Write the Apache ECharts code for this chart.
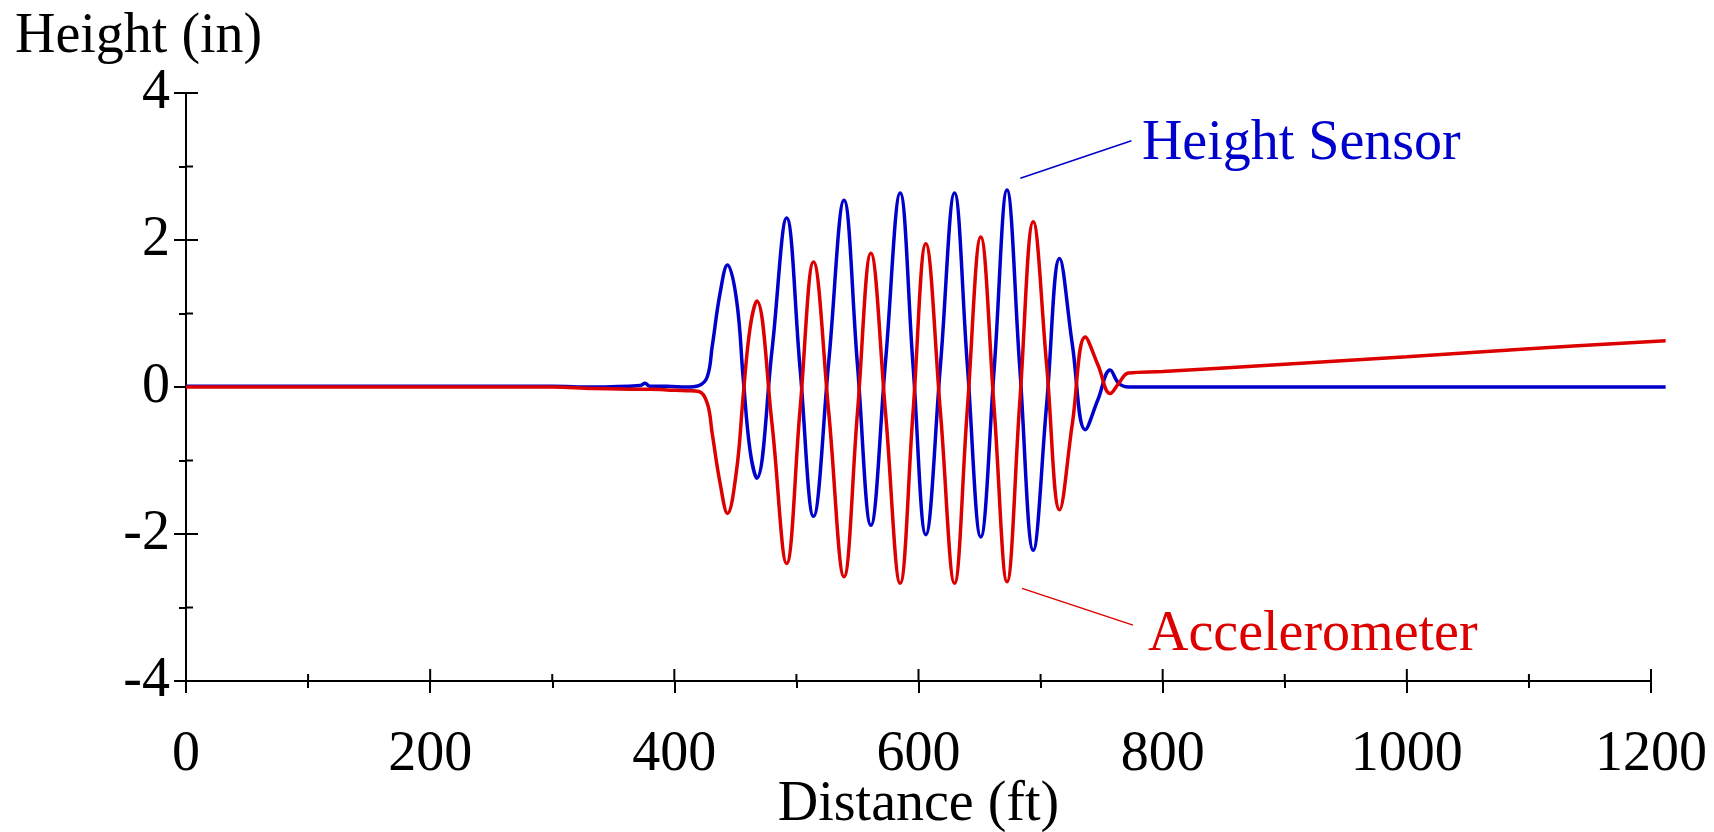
<!DOCTYPE html>
<html>
<head>
<meta charset="utf-8">
<script src="https://cdn.jsdelivr.net/npm/echarts@6/dist/echarts.min.js"></script>
<style>
  html, body { margin: 0; padding: 0; background: #fff; }
  #main { width: 1714px; height: 832px; }
</style>
</head>
<body>
<div id="main"></div>
<script>
"use strict"

// distance along the track (ft), shared by both traces
const distance = [0, 100, 200, 300, 333, 372, 376, 380, 394, 410, 420, 427, 431, 437.5, 443.5, 451, 456.5, 462, 467.5,
    480, 492, 503, 514, 526.5, 539, 550, 561, 573, 585, 595.5, 606, 618, 629.5, 640, 651, 662, 672.5, 683, 694,
    705, 715.6, 726, 736.6, 747, 757, 764, 772, 800, 900, 1000, 1100, 1212];

// height sensor trace (in)
const heightSensor = [0.01, 0.01, 0.01, 0.01, 0.0, 0.02, 0.05, 0.01, 0.01, 0.0, 0.02, 0.14, 0.55, 1.28, 1.66, 1.18, 0.1, -0.86, -1.24,
    0.5, 2.30, 0.25, -1.76, 0.35, 2.54, 0.3, -1.88, 0.35, 2.64, 0.3, -2.01, 0.3, 2.64, 0.3, -2.04, 0.25, 2.68, 0.25, -2.22,
    -0.23, 1.75, 0.58, -0.58, -0.17, 0.23, 0.05, 0.0, 0.0, 0.0, 0.0, 0.0, 0.0];

// accelerometer trace (in)
const accelerometer = [0.0, 0.0, 0.0, 0.0, -0.02, -0.03, -0.03, -0.03, -0.04, -0.05, -0.06, -0.22, -0.63, -1.31, -1.72, -1.13, -0.1, 0.8, 1.17,
    -0.5, -2.40, -0.3, 1.70, -0.35, -2.58, -0.35, 1.82, -0.35, -2.67, -0.35, 1.95, -0.35, -2.67, -0.3, 2.04, -0.3, -2.65, -0.2, 2.25,
    0.29, -1.67, -0.5, 0.68, 0.3, -0.09, 0.05, 0.19, 0.21, 0.31, 0.41, 0.52, 0.63];

const xRange = [0, 1200];     // drawn axis
const xDataMax = 1212;        // traces run a little past the last tick
const yRange = [-4, 4];

// all tick positions (major + minor), used for the inward half of the crossing ticks
const xTicks = [0, 100, 200, 300, 400, 500, 600, 700, 800, 900, 1000, 1100, 1200];
const yTicks = [-4, -3, -2, -1, 0, 1, 2, 3, 4];

// callout labels: name, anchor [distance, height] and leader line
const calloutNames = ['Height Sensor', 'Accelerometer'];
const calloutAnchor = [[783, 3.30], [788, -3.38]];
const leaderLines = [
    [[683.4, 2.84], [774.4, 3.35]],
    [[684.8, -2.74], [775.7, -3.24]]
];

const BLUE = '#0000cc';
const RED = '#dd0000';
const FONT = 'Liberation Serif';
const FS = 56;

const chart = echarts.init(document.getElementById('main'), null, { renderer: 'canvas' });

function pairs(xs, ys) {
    return xs.map(function (x, i) { return [x, ys[i]]; });
}

function baseAxis(extra) {
    const ax = {
        type: 'value',
        axisLine: { show: true, onZero: false, lineStyle: { color: '#000', width: 2 } },
        axisTick: { show: true, length: 12, lineStyle: { color: '#000', width: 2 } },
        minorTick: { show: true, splitNumber: 2, length: 7, lineStyle: { color: '#000', width: 2 } },
        splitLine: { show: false },
        minorSplitLine: { show: false }
    };
    return Object.assign(ax, extra);
}

// plot area: 0 ft at x=186, 1200 ft at x=1651
const LEFT = 186, TOP = 93, BOTTOM = 151, RIGHT = 63;
const plotW = 1714 - LEFT - RIGHT;
const pxPerFt = plotW / (xRange[1] - xRange[0]);
const RIGHT_DATA = 1714 - LEFT - pxPerFt * (xDataMax - xRange[0]);

function grid(right) {
    return { left: LEFT, right: right, top: TOP, bottom: BOTTOM, containLabel: false, outerBoundsMode: 'none' };
}

const option = {
    animation: false,
    backgroundColor: '#fff',
    // grid 0 holds the traces (slightly wider so they can run past 1200),
    // grid 1 draws the visible axes from 0 to 1200
    grid: [grid(RIGHT_DATA), grid(RIGHT)],
    xAxis: [
        { type: 'value', gridIndex: 0, min: xRange[0], max: xDataMax, show: false },
        baseAxis({
            gridIndex: 1, position: 'bottom', min: xRange[0], max: xRange[1], interval: 200,
            name: 'Distance (ft)', nameLocation: 'middle', nameGap: 96, nameMoveOverlap: false,
            nameTextStyle: { fontFamily: FONT, fontSize: FS, color: '#000' },
            axisLabel: {
                fontFamily: FONT, fontSize: FS, color: '#000', margin: 46,
                formatter: function (v) { return String(v); }
            }
        })
    ],
    yAxis: [
        { type: 'value', gridIndex: 0, min: yRange[0], max: yRange[1], show: false },
        baseAxis({
            gridIndex: 1, position: 'left', min: yRange[0], max: yRange[1], interval: 2,
            axisLabel: { fontFamily: FONT, fontSize: FS, color: '#000', margin: 16 }
        })
    ],
    series: [
        {
            name: 'Height Sensor',
            type: 'line',
            xAxisIndex: 0, yAxisIndex: 0,
            data: pairs(distance, heightSensor),
            showSymbol: false,
            smooth: 0.4,
            lineStyle: { color: BLUE, width: 3.5 },
            itemStyle: { color: BLUE },
            markLine: {
                silent: true, symbol: 'none', label: { show: false },
                lineStyle: { color: BLUE, width: 1.5, type: 'solid' },
                data: [[{ coord: leaderLines[0][0] }, { coord: leaderLines[0][1] }]]
            },
            z: 3
        },
        {
            name: 'Accelerometer',
            type: 'line',
            xAxisIndex: 0, yAxisIndex: 0,
            data: pairs(distance, accelerometer),
            showSymbol: false,
            smooth: 0.4,
            lineStyle: { color: RED, width: 3.5 },
            itemStyle: { color: RED },
            markLine: {
                silent: true, symbol: 'none', label: { show: false },
                lineStyle: { color: RED, width: 1.5, type: 'solid' },
                data: [[{ coord: leaderLines[1][0] }, { coord: leaderLines[1][1] }]]
            },
            z: 4
        },
        // invisible, keeps the axis grid's scale from being blank
        {
            type: 'line', xAxisIndex: 1, yAxisIndex: 1, silent: true, showSymbol: false,
            data: pairs(distance, heightSensor), lineStyle: { opacity: 0 }
        }
    ]
};

chart.setOption(option);

const colors = [BLUE, RED];
const graphics = [{
    type: 'text',
    left: 15,
    top: 9,
    style: { text: 'Height (in)', fontFamily: FONT, fontSize: FS, fill: '#000' }
}];

// callouts placed through the chart's own scales
calloutNames.forEach(function (name, i) {
    const p = chart.convertToPixel({ gridIndex: 0 }, calloutAnchor[i]);
    graphics.push({
        type: 'text',
        x: p[0],
        y: p[1],
        style: {
            text: name, fontFamily: FONT, fontSize: FS, fill: colors[i],
            align: 'left', verticalAlign: 'middle'
        }
    });
});

// inward half of each tick, so the ticks cross the axis lines like the original
const axisY = chart.convertToPixel({ yAxisIndex: 1 }, yRange[0]);
const axisX = chart.convertToPixel({ xAxisIndex: 1 }, xRange[0]);
xTicks.forEach(function (v) {
    const px = chart.convertToPixel({ xAxisIndex: 1 }, v);
    const len = (v % 200 === 0) ? 12 : 7;
    graphics.push({
        type: 'line', silent: true,
        shape: { x1: px, y1: axisY, x2: px, y2: axisY - len },
        style: { stroke: '#000', lineWidth: 2 }
    });
});
yTicks.forEach(function (v) {
    const py = chart.convertToPixel({ yAxisIndex: 1 }, v);
    const len = (v % 2 === 0) ? 12 : 7;
    graphics.push({
        type: 'line', silent: true,
        shape: { x1: axisX, y1: py, x2: axisX + len, y2: py },
        style: { stroke: '#000', lineWidth: 2 }
    });
});

chart.setOption({ graphic: graphics });
</script>
</body>
</html>
